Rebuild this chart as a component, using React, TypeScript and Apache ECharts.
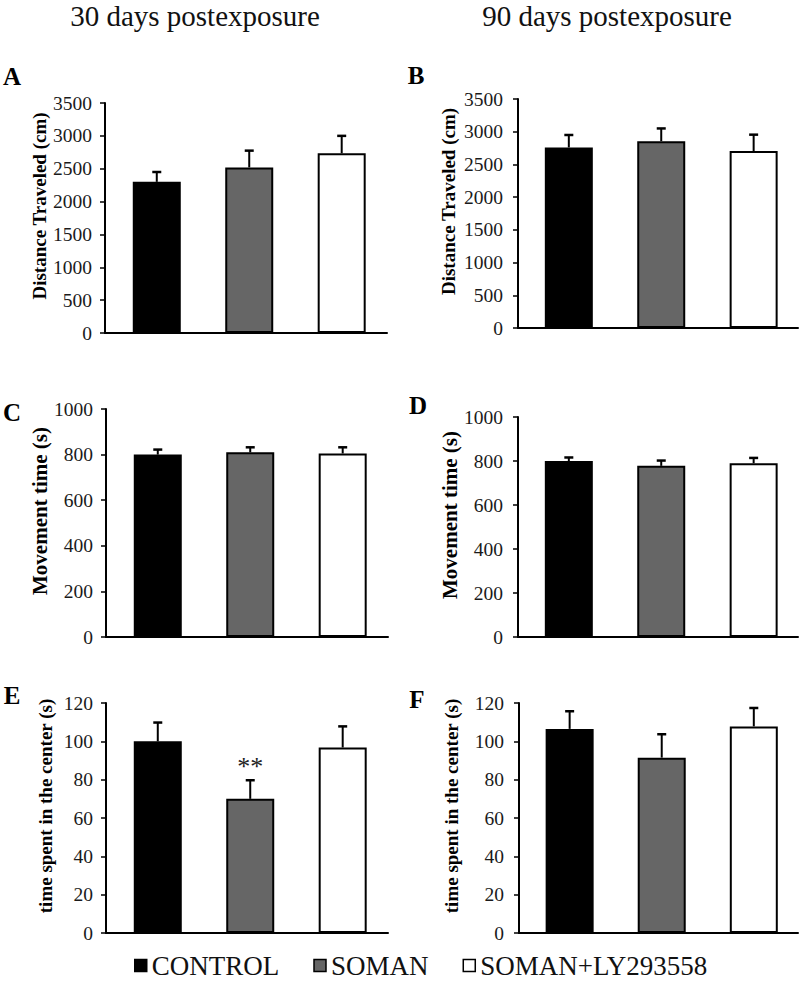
import React, { useEffect, useRef } from "react";
import * as echarts from "echarts";

const groups = ["CONTROL", "SOMAN", "SOMAN+LY293558"];
const groupColors = ["#000000", "#666666", "#ffffff"];

const distance30 = [2300, 2520, 2735];
const distance30Err = [150, 255, 265];
const distance90 = [2760, 2855, 2705];
const distance90Err = [190, 195, 250];
const movement30 = [800, 810, 805];
const movement30Err = [22, 22, 27];
const movement90 = [800, 778, 790];
const movement90Err = [16, 24, 24];
const center30 = [100, 70, 96.8];
const center30Err = [9.8, 9.7, 11];
const center90 = [106.5, 91.5, 107.8];
const center90Err = [9.2, 12.2, 9.6];

const panelLetters = ["A", "B", "C", "D", "E", "F"];
const columnTitles = ["30 days postexposure", "90 days postexposure"];
const yNames = [
  "Distance Traveled (cm)",
  "Distance Traveled (cm)",
  "Movement time (s)",
  "Movement time (s)",
  "time spent in the center (s)",
  "time spent in the center (s)",
];

const SERIF = "Liberation Serif";

export default function App() {
  const ref = useRef<HTMLDivElement>(null);
  useEffect(() => {
    if (!ref.current) return;
    const chart = echarts.init(ref.current, null, { renderer: "svg" });

    const L = { min: -0.56, max: 2.49 };
    const R = { min: -0.55, max: 2.48 };
    const panels = [
      { vals: distance30, errs: distance30Err, max: 3500, interval: 500, grid: { left: 105, top: 103, width: 282, height: 230 }, x: L, gap: 54, nameSize: 19, margin: 13, star: -1 },
      { vals: distance90, errs: distance90Err, max: 3500, interval: 500, grid: { left: 518, top: 99, width: 280, height: 229 }, x: R, gap: 60, nameSize: 19, margin: 15, star: -1 },
      { vals: movement30, errs: movement30Err, max: 1000, interval: 200, grid: { left: 106, top: 409, width: 282, height: 228 }, x: L, gap: 54, nameSize: 21, margin: 13, star: -1 },
      { vals: movement90, errs: movement90Err, max: 1000, interval: 200, grid: { left: 518, top: 417, width: 280, height: 220 }, x: R, gap: 55, nameSize: 21, margin: 15, star: -1 },
      { vals: center30, errs: center30Err, max: 120, interval: 20, grid: { left: 106, top: 703, width: 282, height: 230 }, x: L, gap: 51, nameSize: 19, margin: 13, star: 1 },
      { vals: center90, errs: center90Err, max: 120, interval: 20, grid: { left: 519, top: 703, width: 279, height: 230 }, x: R, gap: 58, nameSize: 19, margin: 15, star: -1 },
    ];

    const grid: any[] = [];
    const xAxis: any[] = [];
    const yAxis: any[] = [];
    const series: any[] = [];

    panels.forEach((p, i) => {
      grid.push({ ...p.grid, containLabel: false });
      xAxis.push({
        type: "value",
        gridIndex: i,
        min: p.x.min,
        max: p.x.max,
        axisLine: { show: true, onZero: false, lineStyle: { color: "#000", width: 2 } },
        axisTick: { show: false },
        axisLabel: { show: false },
        splitLine: { show: false },
      });
      yAxis.push({
        type: "value",
        gridIndex: i,
        min: 0,
        max: p.max,
        interval: p.interval,
        name: yNames[i],
        nameLocation: "middle",
        nameGap: p.gap,
        nameTextStyle: {
          fontFamily: SERIF,
          fontWeight: "bold",
          fontSize: p.nameSize,
          color: "#000",
          padding: [0, 0, 0, 24],
        },
        axisLine: { show: true, onZero: false, lineStyle: { color: "#000", width: 2 } },
        axisTick: { show: true, inside: false, length: 5, lineStyle: { color: "#000", width: 1.5 } },
        axisLabel: {
          fontFamily: SERIF,
          fontSize: 19.5,
          color: "#1a1a1a",
          margin: p.margin,
          formatter: (v: number) => String(v),
        },
        splitLine: { show: false },
      });
      groups.forEach((g, gi) => {
        const item: any =
          p.star === gi
            ? {
                value: [gi, p.vals[gi]],
                label: {
                  show: true,
                  position: "top",
                  distance: 19,
                  formatter: "**",
                  fontFamily: SERIF,
                  fontSize: 26,
                  color: "#222",
                },
              }
            : { value: [gi, p.vals[gi]] };
        series.push({
          type: "bar",
          name: g,
          xAxisIndex: i,
          yAxisIndex: i,
          data: [item],
          barWidth: 48,
          barGap: "-100%",
          itemStyle: { color: groupColors[gi], borderColor: "#000", borderWidth: 2 },
          z: 2,
        });
      });
      series.push({
        type: "custom",
        name: "err" + i,
        xAxisIndex: i,
        yAxisIndex: i,
        data: p.vals.map((v, k) => [k, v, p.errs[k]]),
        encode: { x: 0, y: 1 },
        z: 5,
        renderItem: (params: any, api: any) => {
          const x = api.value(0);
          const y = api.value(1);
          const e = api.value(2);
          const p0 = api.coord([x, y]);
          const p1 = api.coord([x, y + e]);
          return {
            type: "group",
            children: [
              { type: "line", shape: { x1: p0[0], y1: p0[1], x2: p1[0], y2: p1[1] }, style: { stroke: "#000", lineWidth: 2 } },
              { type: "line", shape: { x1: p1[0] - 4.5, y1: p1[1], x2: p1[0] + 4.5, y2: p1[1] }, style: { stroke: "#000", lineWidth: 2.5 } },
            ],
          };
        },
      });
    });

    const letterPos = [
      [12, 76],
      [416, 75],
      [12, 412],
      [418, 405],
      [12, 695],
      [417, 699],
    ];
    const titlePos = [
      [195, 16],
      [607, 16],
    ];

    const graphic: any[] = [];
    panelLetters.forEach((l, i) => {
      graphic.push({
        type: "text",
        x: letterPos[i][0],
        y: letterPos[i][1],
        style: {
          text: l,
          fontFamily: SERIF,
          fontWeight: "bold",
          fontSize: 25,
          fill: "#000",
          align: "center",
          verticalAlign: "middle",
        },
      });
    });
    columnTitles.forEach((t, i) => {
      graphic.push({
        type: "text",
        x: titlePos[i][0],
        y: titlePos[i][1],
        style: {
          text: t,
          fontFamily: SERIF,
          fontSize: 29,
          fill: "#111",
          align: "center",
          verticalAlign: "middle",
        },
      });
    });

    chart.setOption({
      animation: false,
      backgroundColor: "#fff",
      textStyle: { fontFamily: SERIF },
      grid,
      xAxis,
      yAxis,
      series,
      graphic,
      legend: {
        data: groups,
        left: 129,
        top: 947,
        icon: "rect",
        itemWidth: 12,
        itemHeight: 12,
        itemGap: 34,
        itemStyle: { borderColor: "#000", borderWidth: 1.5 },
        textStyle: { fontFamily: SERIF, fontSize: 27, color: "#111" },
        selectedMode: false,
      },
    });
    return () => chart.dispose();
  }, []);
  return (
    <div
      ref={ref}
      style={{ position: "absolute", left: 0, top: 0, width: 800, height: 993, background: "#fff" }}
    />
  );
}
